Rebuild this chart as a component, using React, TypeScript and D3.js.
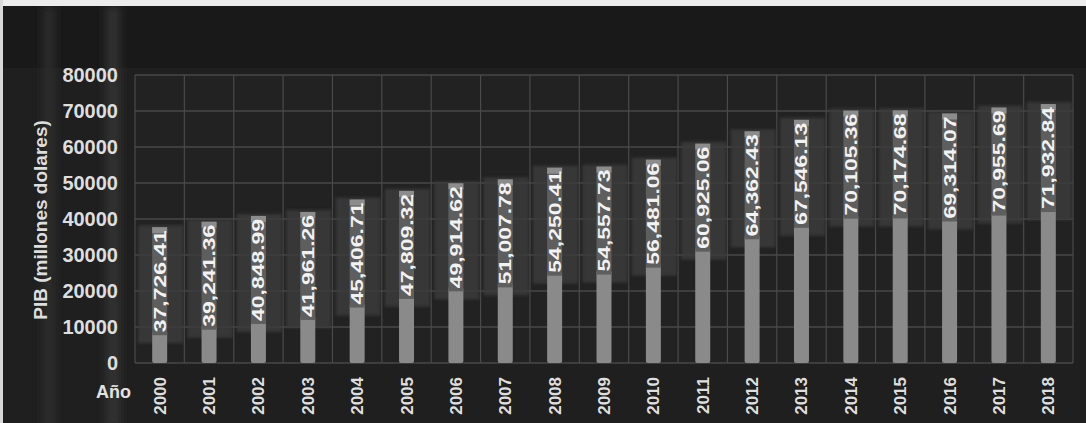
import React from "react";
import * as d3 from "d3";

// PIB anual (millones de dólares)
const years = ["2000","2001","2002","2003","2004","2005","2006","2007","2008","2009","2010","2011","2012","2013","2014","2015","2016","2017","2018"];
const pib = [37726.41, 39241.36, 40848.99, 41961.26, 45406.71, 47809.32, 49914.62, 51007.78, 54250.41, 54557.73, 56481.06, 60925.06, 64362.43, 67546.13, 70105.36, 70174.68, 69314.07, 70955.69, 71932.84];
const yTicks = [0, 10000, 20000, 30000, 40000, 50000, 60000, 70000, 80000];

const W = 1086;
const H = 423;
const M = { left: 135, right: 13, top: 75, bottom: 60 };
const FONT = "'Liberation Sans', Arial, sans-serif";

export default function App() {
  const x = d3.scaleBand<string>().domain(years).range([M.left, W - M.right]).paddingInner(0);
  const y = d3.scaleLinear().domain([0, 80000]).range([H - M.bottom, M.top]);
  const fmt = d3.format(",.2f");
  const bw = x.bandwidth();
  const barW = 15;
  const labelLen = 108;
  const bandLen = 118;

  return (
    <svg
      width={W}
      height={H}
      style={{ position: "fixed", left: 0, top: 0, display: "block" }}
      fontFamily={FONT}
    >
      <defs>
        <filter id="soft" x="-20%" y="-20%" width="140%" height="140%">
          <feGaussianBlur stdDeviation="1.8" />
        </filter>
        <filter id="streak" x="-100%" y="0" width="300%" height="100%">
          <feGaussianBlur stdDeviation="5" />
        </filter>
      </defs>

      {/* page background */}
      <rect x={0} y={0} width={W} height={H} fill="#1f1f1f" />
      <rect x={0} y={0} width={W} height={6} fill="#ececec" />
      <rect x={0} y={0} width={3} height={H} fill="#d8d8d8" />
      <rect x={3} y={6} width={W - 3} height={62} fill="#191919" />

      {/* faint vertical streaks on the left */}
      <rect x={44} y={6} width={10} height={H} fill="#2e2e2e" filter="url(#streak)" />
      <rect x={106} y={6} width={14} height={H} fill="#333" filter="url(#streak)" />

      {/* plot area */}
      <rect x={M.left} y={M.top} width={W - M.left - M.right} height={H - M.top - M.bottom} fill="#222" />

      {/* horizontal gridlines */}
      {yTicks.map((t) => (
        <line key={"h" + t} x1={M.left} x2={W - M.right} y1={y(t)} y2={y(t)} stroke="#5a5a5a" strokeWidth={1.2} />
      ))}
      {/* vertical gridlines at category boundaries */}
      {years.map((yr) => (
        <line key={"v" + yr} x1={x(yr)!} x2={x(yr)!} y1={M.top} y2={y(0)} stroke="#4a4a4a" strokeWidth={1.2} />
      ))}
      <line x1={W - M.right} x2={W - M.right} y1={M.top} y2={y(0)} stroke="#4a4a4a" strokeWidth={1.2} />

      {/* wide soft columns behind the value labels */}
      {years.map((yr, i) => {
        const top = y(pib[i]);
        return (
          <rect
            key={"b" + yr}
            x={x(yr)! + 3}
            y={top - 2}
            width={bw - 4}
            height={bandLen}
            fill="#3a3a3a"
            opacity={0.85}
            filter="url(#soft)"
          />
        );
      })}

      {/* narrow bars */}
      {years.map((yr, i) => {
        const cx = x(yr)! + bw / 2;
        const top = y(pib[i]);
        return (
          <rect
            key={"n" + yr}
            x={cx - barW / 2}
            y={top + labelLen - 4}
            width={barW}
            height={Math.max(0, y(0) - top - labelLen + 4)}
            rx={2}
            fill="#8a8a8a"
          />
        );
      })}

      {/* value labels */}
      {years.map((yr, i) => {
        const cx = x(yr)! + bw / 2;
        const top = y(pib[i]);
        return (
          <g key={"l" + yr}>
            <rect x={cx - barW / 2} y={top} width={barW} height={labelLen} fill="#5e5e5e" />
            <rect x={cx - barW / 2} y={top} width={barW} height={6} fill="#8c8c8c" />
            <text
              transform={`translate(${cx + 6},${top + 3}) rotate(-90)`}
              textAnchor="end"
              fontSize={16}
              fontWeight="bold"
              fill="#f2f2f2"
              textLength={labelLen - 6}
              lengthAdjust="spacingAndGlyphs"
            >
              {fmt(pib[i])}
            </text>
          </g>
        );
      })}

      {/* y tick labels */}
      {yTicks.map((t) => (
        <text
          key={"t" + t}
          x={118}
          y={y(t)}
          dy="0.36em"
          textAnchor="end"
          fontSize={20}
          fontWeight="bold"
          fill="#dedede"
        >
          {t}
        </text>
      ))}

      {/* y axis title */}
      <text
        transform={`translate(47,${220}) rotate(-90)`}
        textAnchor="middle"
        fontSize={19}
        fontWeight="bold"
        fill="#dedede"
      >
        PIB (millones dolares)
      </text>

      {/* x axis */}
      <text x={96} y={398} fontSize={18} fontWeight="bold" fill="#e2e2e2">
        Año
      </text>
      {years.map((yr) => (
        <text
          key={"x" + yr}
          transform={`translate(${x(yr)! + bw / 2 + 6},${377}) rotate(-90)`}
          textAnchor="end"
          fontSize={17}
          fontWeight="bold"
          fill="#dedede"
        >
          {yr}
        </text>
      ))}
    </svg>
  );
}
